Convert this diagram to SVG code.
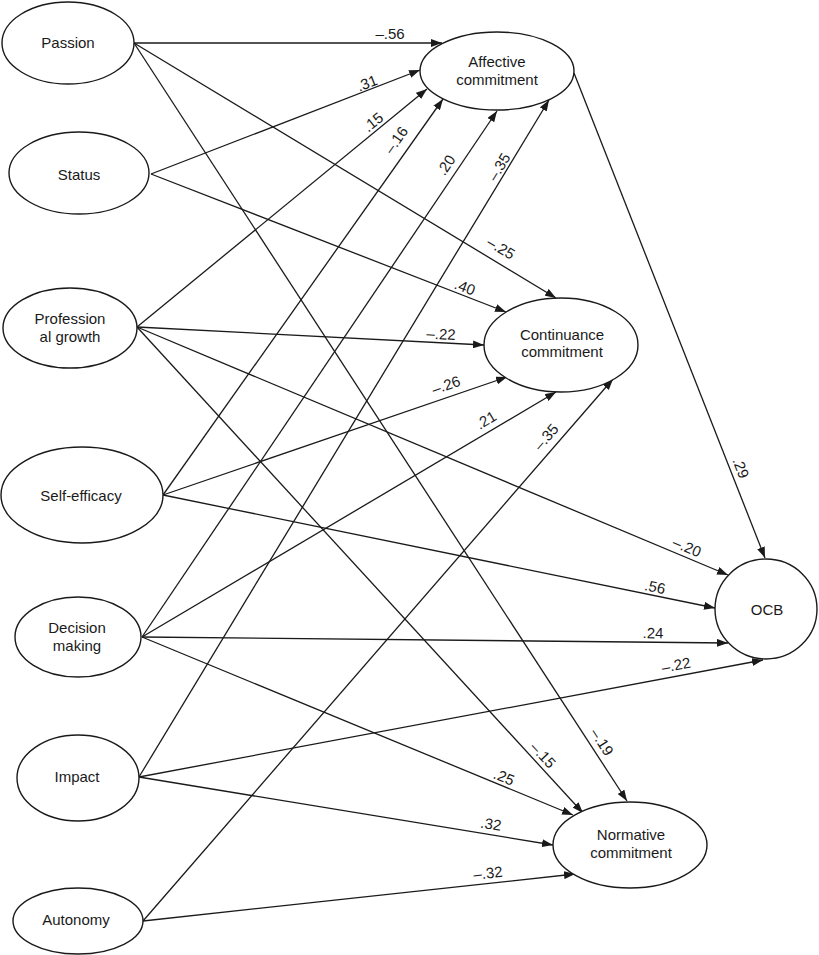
<svg xmlns="http://www.w3.org/2000/svg" width="819" height="955" viewBox="0 0 819 955">
<style>
.node ellipse{fill:#fff;stroke:#1a1a1a;stroke-width:1.4}
.node text{font-family:"Liberation Sans",Arial,sans-serif;font-size:15px;fill:#1a1a1a;text-anchor:middle}
.edges line{stroke:#1a1a1a;stroke-width:1.3;marker-end:url(#arr)}
.lbl text{font-family:"Liberation Sans",Arial,sans-serif;font-size:15px;fill:#1a1a1a;text-anchor:middle}
</style>
<defs>
<marker id="arr" markerUnits="userSpaceOnUse" markerWidth="11" markerHeight="8" refX="11" refY="4" orient="auto">
<path d="M0,0 L11,4 L0,8 z" fill="#1a1a1a"/>
</marker>
</defs>
<rect width="819" height="955" fill="#fff"/>
<g class="edges" id="connectors">
<line x1="134" y1="43" x2="442" y2="43"/>
<line x1="134" y1="43" x2="556" y2="298"/>
<line x1="134" y1="43" x2="627" y2="801"/>
<line x1="151" y1="174" x2="420" y2="70"/>
<line x1="151" y1="174" x2="506" y2="312"/>
<line x1="137" y1="327" x2="427" y2="89"/>
<line x1="137" y1="327" x2="484" y2="345"/>
<line x1="137" y1="327" x2="728" y2="575"/>
<line x1="137" y1="327" x2="583" y2="813"/>
<line x1="163" y1="495" x2="443" y2="99"/>
<line x1="163" y1="495" x2="507" y2="377"/>
<line x1="163" y1="495" x2="715" y2="608"/>
<line x1="142" y1="637" x2="497" y2="111"/>
<line x1="142" y1="637" x2="556" y2="392"/>
<line x1="142" y1="637" x2="728" y2="643"/>
<line x1="142" y1="637" x2="573" y2="815"/>
<line x1="139" y1="777" x2="549" y2="100"/>
<line x1="139" y1="777" x2="763" y2="660"/>
<line x1="139" y1="777" x2="553" y2="845"/>
<line x1="143" y1="921" x2="613" y2="379"/>
<line x1="143" y1="921" x2="575" y2="874"/>
<line x1="574" y1="73" x2="765" y2="558"/>
</g>
<g class="lbl" id="labels">
<text x="390" y="34" dy="0.35em">–.56</text>
<text x="501" y="248" dy="0.35em" transform="rotate(31 501 248)">–.25</text>
<text x="602" y="742" dy="0.35em" transform="rotate(57 602 742)">–.19</text>
<text x="367" y="83" dy="0.35em" transform="rotate(-21 367 83)">.31</text>
<text x="465" y="287" dy="0.35em" transform="rotate(21 465 287)">.40</text>
<text x="373" y="122" dy="0.35em" transform="rotate(-39 373 122)">.15</text>
<text x="441" y="334" dy="0.35em" transform="rotate(3 441 334)">–.22</text>
<text x="687" y="547" dy="0.35em" transform="rotate(23 687 547)">–.20</text>
<text x="543" y="755" dy="0.35em" transform="rotate(47 543 755)">–.15</text>
<text x="396" y="140" dy="0.35em" transform="rotate(-55 396 140)">–.16</text>
<text x="446" y="385" dy="0.35em" transform="rotate(-19 446 385)">–.26</text>
<text x="655" y="587" dy="0.35em" transform="rotate(12 655 587)">.56</text>
<text x="446" y="165" dy="0.35em" transform="rotate(-56 446 165)">.20</text>
<text x="486" y="420" dy="0.35em" transform="rotate(-31 486 420)">.21</text>
<text x="653" y="633" dy="0.35em" transform="rotate(1 653 633)">.24</text>
<text x="504" y="777" dy="0.35em" transform="rotate(22 504 777)">.25</text>
<text x="499" y="167" dy="0.35em" transform="rotate(-59 499 167)">–.35</text>
<text x="676" y="665" dy="0.35em" transform="rotate(-11 676 665)">–.22</text>
<text x="491" y="824" dy="0.35em" transform="rotate(9 491 824)">.32</text>
<text x="546" y="437" dy="0.35em" transform="rotate(-49 546 437)">–.35</text>
<text x="488" y="873" dy="0.35em" transform="rotate(-6 488 873)">–.32</text>
<text x="741" y="468" dy="0.35em" transform="rotate(69 741 468)">.29</text>
</g>
<g class="node" id="passion"><ellipse cx="68" cy="43" rx="66" ry="41"/><text x="68" y="48">Passion</text></g>
<g class="node" id="status"><ellipse cx="79" cy="173" rx="70" ry="41"/><text x="79" y="180">Status</text></g>
<g class="node" id="professional-growth"><ellipse cx="70" cy="328" rx="67" ry="40"/><text x="70" y="324">Profession</text><text x="70" y="342">al growth</text></g>
<g class="node" id="self-efficacy"><ellipse cx="82" cy="495" rx="81" ry="48"/><text x="81" y="501">Self-efficacy</text></g>
<g class="node" id="decision-making"><ellipse cx="78" cy="637" rx="63" ry="40"/><text x="77" y="633">Decision</text><text x="77" y="651">making</text></g>
<g class="node" id="impact"><ellipse cx="78" cy="778" rx="61" ry="43"/><text x="77" y="782">Impact</text></g>
<g class="node" id="autonomy"><ellipse cx="78" cy="921" rx="65" ry="33"/><text x="76" y="925">Autonomy</text></g>
<g class="node" id="affective"><ellipse cx="497" cy="71" rx="77" ry="39"/><text x="497" y="67">Affective</text><text x="497" y="85">commitment</text></g>
<g class="node" id="continuance"><ellipse cx="561" cy="345" rx="77" ry="47"/><text x="562" y="340">Continuance</text><text x="562" y="357">commitment</text></g>
<g class="node" id="ocb"><ellipse cx="766" cy="609" rx="51" ry="50"/><text x="767" y="615">OCB</text></g>
<g class="node" id="normative"><ellipse cx="630" cy="845" rx="77" ry="43"/><text x="631" y="840">Normative</text><text x="631" y="858">commitment</text></g>
</svg>
